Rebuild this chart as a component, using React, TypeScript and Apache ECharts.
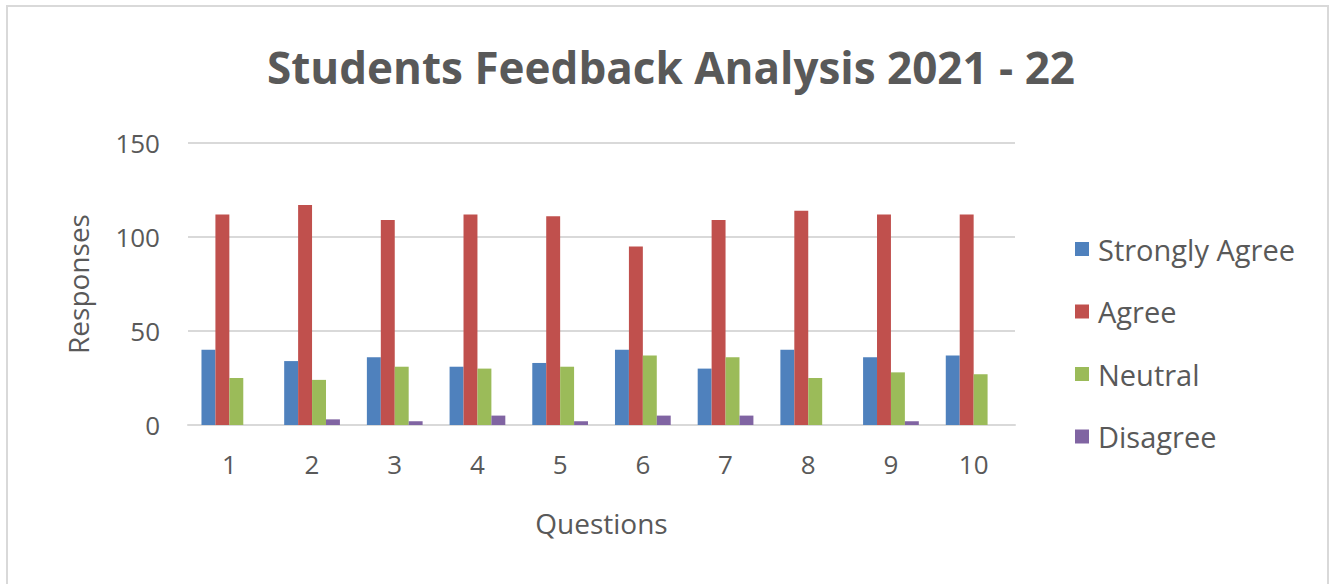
import React, { useEffect, useRef } from "react";
import * as echarts from "echarts";

const categories = ["1", "2", "3", "4", "5", "6", "7", "8", "9", "10"];
const stronglyAgree = [40, 34, 36, 31, 33, 40, 30, 40, 36, 37];
const agree = [112, 117, 109, 112, 111, 95, 109, 114, 112, 112];
const neutral = [25, 24, 31, 30, 31, 37, 36, 25, 28, 27];
const disagree = [0, 3, 2, 5, 2, 5, 5, 0, 2, 0];
const seriesNames = ["Strongly Agree", "Agree", "Neutral", "Disagree"];
const colors = ["#4f81bd", "#c0504d", "#9bbb59", "#8064a2"];

const FONT = "'Open Sans', 'Noto Sans', sans-serif";
const TEXT = "#595959";

export default function App() {
  const ref = useRef<HTMLDivElement>(null);
  useEffect(() => {
    document.body.style.margin = "0";
    if (!ref.current) return;
    const chart = echarts.init(ref.current, null, { renderer: "svg" });
    const data = [stronglyAgree, agree, neutral, disagree];
    chart.setOption({
      animation: false,
      backgroundColor: "#ffffff",
      graphic: [
        {
          type: "rect",
          shape: { x: 7, y: 6, width: 1321, height: 620 },
          style: { fill: "none", stroke: "#d9d9d9", lineWidth: 2 },
          silent: true,
        },
      ],
      title: {
        text: "Students Feedback Analysis 2021 - 22",
        left: 666,
        textAlign: "center",
        top: 40,
        textStyle: { fontFamily: FONT, fontWeight: "bold", fontSize: 44, color: TEXT },
      },
      legend: {
        orient: "vertical",
        left: 1070,
        top: 229,
        itemWidth: 14,
        itemHeight: 14,
        itemGap: 32.5,
        icon: "rect",
        data: seriesNames,
        textStyle: { fontFamily: FONT, fontSize: 29, lineHeight: 30, color: TEXT, padding: [0, 0, 0, 4] },
      },
      grid: { left: 188, right: 315, top: 143, bottom: 159, containLabel: false },
      xAxis: {
        type: "category",
        data: categories,
        name: "Questions",
        nameLocation: "middle",
        nameGap: 84,
        nameTextStyle: { fontFamily: FONT, fontSize: 28, color: TEXT },
        axisTick: { show: false },
        axisLine: { lineStyle: { color: "#d9d9d9", width: 2 } },
        axisLabel: { fontFamily: FONT, fontSize: 26, color: TEXT, margin: 26 },
      },
      yAxis: {
        type: "value",
        min: 0,
        max: 150,
        interval: 50,
        name: "Responses",
        nameLocation: "middle",
        nameGap: 96,
        nameTextStyle: { fontFamily: FONT, fontSize: 28, color: TEXT },
        axisLine: { show: false },
        axisTick: { show: false },
        splitLine: { lineStyle: { color: "#d9d9d9", width: 2 } },
        axisLabel: { fontFamily: FONT, fontSize: 26, color: TEXT, margin: 28 },
      },
      series: seriesNames.map((name, i) => ({
        name,
        type: "bar",
        data: data[i],
        barGap: "0%",
        barCategoryGap: "32.6%",
        itemStyle: { color: colors[i] },
      })),
    });
    return () => chart.dispose();
  }, []);
  return <div ref={ref} style={{ width: 1330, height: 584 }} />;
}
